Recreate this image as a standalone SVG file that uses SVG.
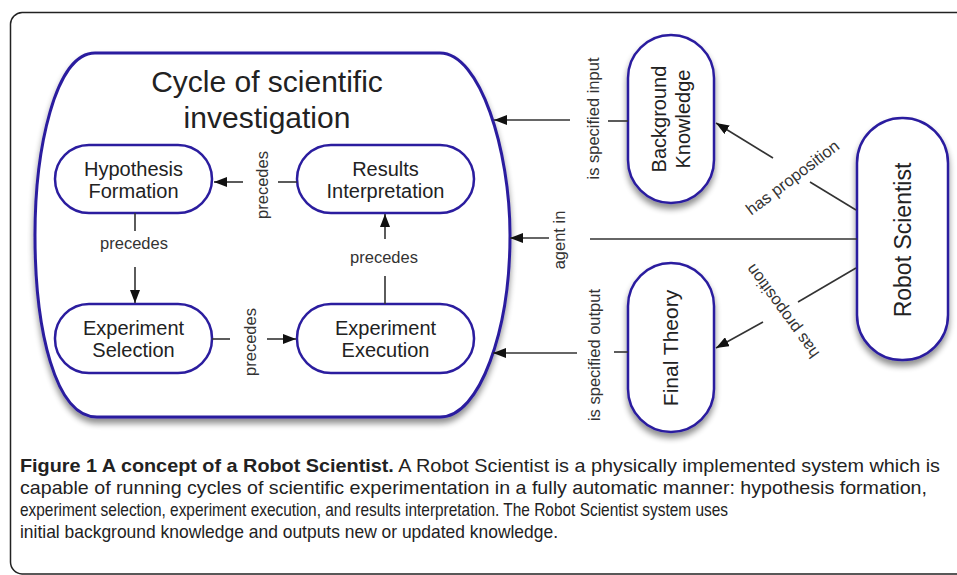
<svg xmlns="http://www.w3.org/2000/svg" width="957" height="575" viewBox="0 0 957 575">
<style>
.node{fill:#fff;stroke:#2b1d9f;stroke-width:2.5}
.big{fill:#fff;stroke:#2b1d9f;stroke-width:3}
.nt{font-family:"Liberation Sans",Arial,sans-serif;font-size:20px;fill:#222;text-anchor:middle}
.lb{font-family:"Liberation Sans",Arial,sans-serif;font-size:16.5px;fill:#333;text-anchor:middle}
.ln{stroke:#333;stroke-width:1.6;fill:none}
.ar{stroke:#333;stroke-width:1.6;fill:none;marker-end:url(#ah)}
.cap{font-family:"Liberation Sans",Arial,sans-serif;font-size:19px;fill:#222}
</style>
<defs>
<marker id="ah" markerUnits="userSpaceOnUse" markerWidth="14" markerHeight="10" refX="13" refY="5" orient="auto">
<path d="M0,0 L13,5 L0,10 z" fill="#111"/>
</marker>
<filter id="sh" x="-20%" y="-20%" width="140%" height="150%">
<feGaussianBlur in="SourceAlpha" stdDeviation="3"/>
<feOffset dy="5"/>
<feComponentTransfer><feFuncA type="linear" slope="0.45"/></feComponentTransfer>
<feMerge><feMergeNode/><feMergeNode in="SourceGraphic"/></feMerge>
</filter>
</defs>
<rect width="957" height="575" fill="#fff"/>
<path d="M957,12.5 H22 A12,12 0 0 0 10.5,24 V562 A12,12 0 0 0 22,574 H957" fill="none" stroke="#222" stroke-width="1.5"/>

<g id="cycle">
<path class="big" filter="url(#sh)" d="M95,53 H440 C480,53 510,150 510,235 C510,330 480,417 440,417 H97 C55,417 35,330 35,235 C35,150 55,53 95,53 Z"/>
<text class="nt" style="font-size:30px"><tspan x="267" y="92">Cycle of scientific</tspan><tspan x="267" y="128">investigation</tspan></text>
</g>
<g id="hypothesis">
<rect class="node" x="55" y="145" width="157" height="68" rx="34"/>
<text class="nt"><tspan x="133.5" y="176">Hypothesis</tspan><tspan x="133.5" y="198">Formation</tspan></text>
</g>
<g id="results">
<rect class="node" x="297" y="145" width="177" height="68" rx="34"/>
<text class="nt"><tspan x="385.5" y="176">Results</tspan><tspan x="385.5" y="198">Interpretation</tspan></text>
</g>
<g id="selection">
<rect class="node" x="55" y="304" width="157" height="69" rx="34"/>
<text class="nt"><tspan x="133.5" y="335">Experiment</tspan><tspan x="133.5" y="357">Selection</tspan></text>
</g>
<g id="execution">
<rect class="node" x="297" y="304" width="177" height="69" rx="34"/>
<text class="nt"><tspan x="385.5" y="335">Experiment</tspan><tspan x="385.5" y="357">Execution</tspan></text>
</g>
<g id="background">
<rect class="node" filter="url(#sh)" x="628" y="35" width="86" height="168" rx="43"/>
<text class="nt" transform="translate(671,119) rotate(-90)"><tspan x="0" y="-5.5">Background</tspan><tspan x="0" y="18.5">Knowledge</tspan></text>
</g>
<g id="finaltheory">
<rect class="node" filter="url(#sh)" x="628" y="263" width="86" height="169" rx="43"/>
<text class="nt" style="font-size:21px" transform="translate(671,348) rotate(-90)" x="0" y="6.5">Final Theory</text>
</g>
<g id="robot">
<rect class="node" filter="url(#sh)" x="857" y="118" width="91" height="242" rx="45"/>
<text class="nt" style="font-size:23px" transform="translate(902.5,240) rotate(-90)" x="0" y="8.5">Robot Scientist</text>
</g>

<g id="connectors">
<line class="ln" x1="297" y1="182" x2="278" y2="182"/>
<line class="ar" x1="243" y1="182" x2="214" y2="182"/>
<text class="lb" transform="translate(268,185) rotate(-90)">precedes</text>

<line class="ln" x1="135" y1="213" x2="135" y2="231"/>
<line class="ar" x1="135" y1="267" x2="135" y2="303"/>
<text class="lb" x="134" y="249">precedes</text>

<line class="ln" x1="212" y1="339" x2="230" y2="339"/>
<line class="ar" x1="267" y1="339" x2="296" y2="339"/>
<text class="lb" transform="translate(256,342) rotate(-90)">precedes</text>

<line class="ln" x1="385" y1="304" x2="385" y2="276"/>
<line class="ar" x1="385" y1="239" x2="385" y2="214"/>
<text class="lb" x="384" y="263">precedes</text>

<line class="ln" x1="628" y1="121" x2="608" y2="121"/>
<line class="ar" x1="570" y1="120" x2="494" y2="120"/>
<text class="lb" transform="translate(599,118.5) rotate(-90)">is specified input</text>

<line class="ln" x1="857" y1="239" x2="590" y2="239"/>
<line class="ar" x1="549" y1="238" x2="510" y2="238"/>
<text class="lb" transform="translate(565,240) rotate(-90)">agent in</text>

<line class="ln" x1="628" y1="352" x2="614" y2="352"/>
<line class="ar" x1="577" y1="353" x2="493" y2="353"/>
<text class="lb" transform="translate(600,355) rotate(-90)">is specified output</text>

<line class="ln" x1="856" y1="210" x2="810" y2="182"/>
<line class="ar" x1="773" y1="158" x2="716" y2="123"/>
<text class="lb" transform="translate(796,182) rotate(-37)">has proposition</text>

<line class="ln" x1="856" y1="268" x2="798" y2="302"/>
<line class="ar" x1="763" y1="322" x2="716" y2="348"/>
<text class="lb" transform="translate(787,308) rotate(-126)">has proposition</text>
</g>

<g id="caption">
<text class="cap" x="20" y="472" textLength="920" lengthAdjust="spacingAndGlyphs"><tspan font-weight="bold">Figure 1 A concept of a Robot Scientist.</tspan> A Robot Scientist is a physically implemented system which is</text>
<text class="cap" x="20" y="494" textLength="907" lengthAdjust="spacingAndGlyphs">capable of running cycles of scientific experimentation in a fully automatic manner: hypothesis formation,</text>
<text class="cap" x="20" y="516" textLength="708" lengthAdjust="spacingAndGlyphs">experiment selection, experiment execution, and results interpretation. The Robot Scientist system uses</text>
<text class="cap" x="20" y="538" textLength="538" lengthAdjust="spacingAndGlyphs">initial background knowledge and outputs new or updated knowledge.</text>
</g>
</svg>
